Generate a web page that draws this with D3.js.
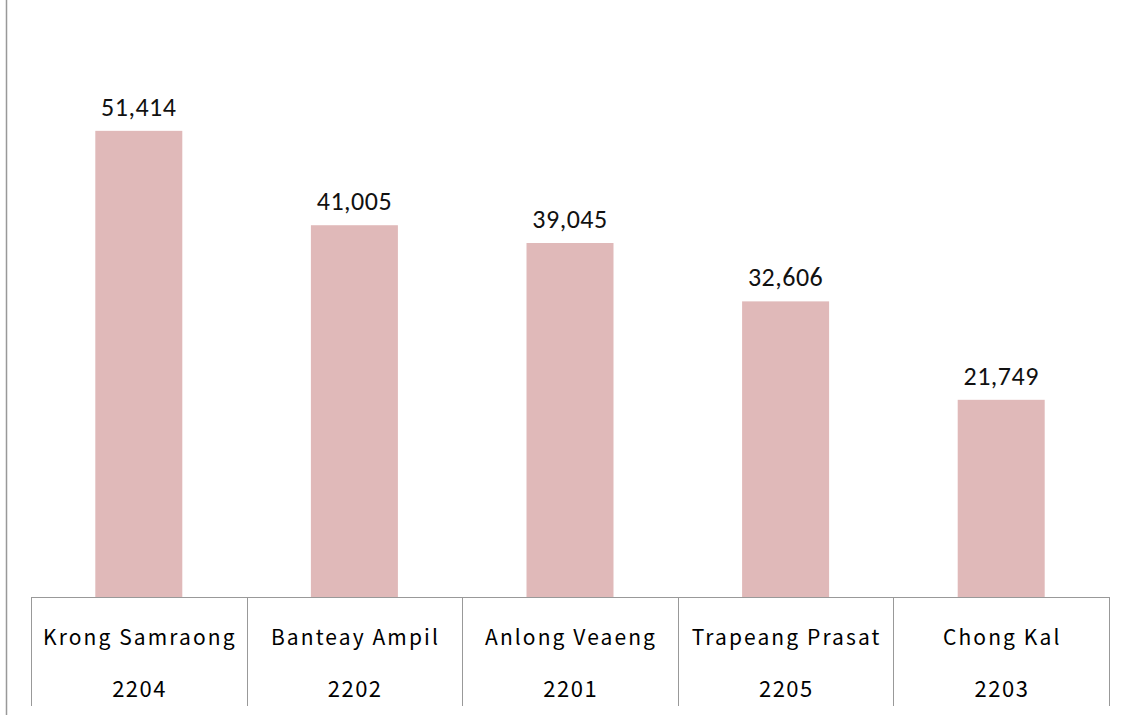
<!DOCTYPE html>
<html><head><meta charset="utf-8">
<script src="https://cdn.jsdelivr.net/npm/d3@7"></script>
<style>body{margin:0;background:#fff}svg{display:block}</style>
</head><body>
<script>
const categories = ["Krong Samraong","Banteay Ampil","Anlong Veaeng","Trapeang Prasat","Chong Kal"];
const codes = ["2204","2202","2201","2205","2203"];
const values = [51414,41005,39045,32606,21749];

const W=1136,H=715;
const svg=d3.select("body").append("svg").attr("width",W).attr("height",H);
const x=d3.scaleBand().domain(categories).range([31,1109]).paddingInner(0).paddingOuter(0);
const y=d3.scaleLinear().domain([0,60000]).range([597,53]);
const bw=87;
const fmt=d3.format(",");

// left axis line
svg.append("line").attr("x1",6.5).attr("x2",6.5).attr("y1",0).attr("y2",H).attr("stroke","#999").attr("stroke-width",1.5);

// bars
svg.selectAll("rect.bar").data(values).join("rect").attr("class","bar")
 .attr("x",(d,i)=>x(categories[i])+x.bandwidth()/2-bw/2)
 .attr("width",bw)
 .attr("y",d=>y(d)).attr("height",d=>y(0)-y(d))
 .attr("fill","#e0b9b9");

// value labels
svg.selectAll("text.val").data(values).join("text").attr("class","val")
 .attr("x",(d,i)=>x(categories[i])+x.bandwidth()/2)
 .attr("y",d=>y(d)-15)
 .attr("text-anchor","middle")
 .attr("font-family","Carlito, 'Open Sans', 'Liberation Sans', sans-serif")
 .attr("font-size",26).attr("letter-spacing",0.5).attr("fill","#111")
 .text(d=>fmt(d));

// table lines
svg.append("line").attr("x1",31).attr("x2",1109).attr("y1",597.5).attr("y2",597.5).attr("stroke","#999").attr("stroke-width",1);
const bounds=categories.map(c=>x(c)).concat([x.range()[1]]);
svg.selectAll("line.sep").data(bounds).join("line").attr("class","sep")
 .attr("x1",d=>Math.round(d)+0.5).attr("x2",d=>Math.round(d)+0.5)
 .attr("y1",597).attr("y2",706).attr("stroke","#999").attr("stroke-width",1);

// category labels
const lsCat=2.1, lsCode=1.5;
svg.selectAll("text.cat").data(categories).join("text").attr("class","cat")
 .attr("x",d=>x(d)+x.bandwidth()/2+lsCat/2).attr("y",645)
 .attr("text-anchor","middle")
 .attr("font-family","'Noto Sans CJK JP', sans-serif")
 .attr("font-size",21).attr("letter-spacing",lsCat).attr("fill","#000")
 .text(d=>d);
svg.selectAll("text.code").data(codes).join("text").attr("class","code")
 .attr("x",(d,i)=>x(categories[i])+x.bandwidth()/2+lsCode/2).attr("y",697)
 .attr("text-anchor","middle")
 .attr("font-family","'Noto Sans CJK JP', sans-serif")
 .attr("font-size",22).attr("letter-spacing",lsCode).attr("fill","#000")
 .text(d=>d);
</script>
</body></html>
